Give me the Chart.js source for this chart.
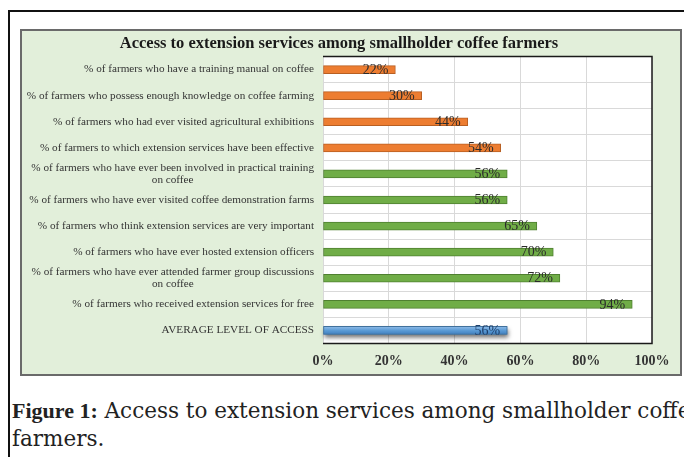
<!DOCTYPE html>
<html>
<head>
<meta charset="utf-8">
<script src="https://cdn.jsdelivr.net/npm/chart.js@4.4.1/dist/chart.umd.min.js"></script>
<style>
  html, body { margin:0; padding:0; background:#fff; width:684px; height:457px; overflow:hidden; }
  #frame { position:absolute; left:8px; top:10px; width:720px; height:480px; border:2px solid #111; box-sizing:border-box; }
  #box { position:absolute; left:20px; top:29px; width:662px; height:347px; box-sizing:border-box; border:2px solid #6a6a6a; background:#e2efda; }
  #box canvas { position:absolute; left:0; top:0; }
  #caption { position:absolute; left:12px; top:397px; font-family:"DejaVu Serif", serif; font-size:21.5px; line-height:28px; color:#222; white-space:nowrap; }
  #caption b { font-family:"Liberation Serif", serif; font-weight:bold; font-size:22px; }
</style>
</head>
<body>
<div id="frame"></div>
<div id="box"><canvas id="c" width="658" height="343"></canvas></div>
<div id="caption"><b>Figure 1:</b> Access to extension services among smallholder coffee<br>farmers.</div>
<script>
const chartTitle = "Access to extension services among smallholder coffee farmers";
const categories = [
  "% of farmers who have a training manual on coffee",
  "% of farmers who possess enough knowledge on coffee farming",
  "% of farmers who had ever visited agricultural exhibitions",
  "% of farmers to which extension services have been effective",
  ["% of farmers who have ever been involved in practical training", "on coffee"],
  "% of farmers who have ever visited coffee demonstration farms",
  "% of farmers who think extension services are very important",
  "% of farmers who have ever hosted extension officers",
  ["% of farmers who have ever attended farmer group discussions", "on coffee"],
  "% of farmers who received extension services for free",
  "AVERAGE LEVEL OF ACCESS"
];
const values = [22, 30, 44, 54, 56, 56, 65, 70, 72, 94, 56];
const groups = ["low", "low", "low", "low", "high", "high", "high", "high", "high", "high", "avg"];
const xTicks = [0, 20, 40, 60, 80, 100];

const fills = { low: "#ed7d31", high: "#70ad47" };
const borders = { low: "#b85f22", high: "#4f8030", avg: "#41719c" };

function barFill(ctx) {
  const g = groups[ctx.dataIndex];
  if (g !== "avg") return fills[g];
  const chart = ctx.chart;
  const ys = chart.scales && chart.scales.y;
  if (!ys || !chart.chartArea) return "#5b9bd5";
  const y = ys.getPixelForValue(ctx.dataIndex);
  const gr = chart.ctx.createLinearGradient(0, y - 4, 0, y + 4);
  gr.addColorStop(0, "#8fbbe8");
  gr.addColorStop(0.5, "#5b9bd5");
  gr.addColorStop(1, "#3f7fc0");
  return gr;
}

const bgPlugin = {
  id: "bg",
  beforeDraw(chart) {
    const a = chart.chartArea, c = chart.ctx;
    c.save(); c.fillStyle = "#ffffff"; c.fillRect(a.left, a.top, a.right - a.left, a.bottom - a.top); c.restore();
  },
  beforeDatasetsDraw(chart) {
    const c = chart.ctx;
    const meta = chart.getDatasetMeta(0);
    meta.data.forEach((el, i) => {
      if (groups[i] !== "avg") return;
      const p = el.getProps(["x", "y", "base", "height"], true);
      c.save();
      c.shadowColor = "rgba(0,0,0,0.55)";
      c.shadowBlur = 4;
      c.shadowOffsetY = 3;
      c.shadowOffsetX = 1;
      c.fillStyle = "#3f7fc0";
      c.fillRect(p.base, p.y - p.height / 2, p.x - p.base, p.height);
      c.restore();
    });
  },
  afterDatasetsDraw(chart) {
    const c = chart.ctx;
    const meta = chart.getDatasetMeta(0);
    c.save();
    c.font = "14px 'Liberation Serif', serif";
    c.textAlign = "right";
    c.textBaseline = "middle";
    meta.data.forEach((el, i) => {
      const p = el.getProps(["x", "y"], true);
      c.fillStyle = groups[i] === "avg" ? "#1f3f6a" : "#2b2b2b";
      c.fillText(values[i] + "%", p.x - 7, p.y + 0.5);
    });
    c.restore();
  },
  afterDraw(chart) {
    const a = chart.chartArea, c = chart.ctx;
    const ys = chart.scales.y;
    c.save();
    c.strokeStyle = "#1a1a1a"; c.lineWidth = 1.5;
    c.beginPath();
    c.moveTo(a.left, a.top); c.lineTo(a.right, a.top); c.lineTo(a.right, a.bottom); c.lineTo(a.left, a.bottom);
    c.stroke();
    // category labels: first line right-aligned, continuation lines centred under it
    c.font = "11.2px 'Liberation Serif', serif";
    c.fillStyle = "#333";
    c.textBaseline = "middle";
    const rightX = a.left - 9;
    const lh = 12.5;
    categories.forEach((lab, i) => {
      const y = ys.getPixelForValue(i);
      const lines = Array.isArray(lab) ? lab : [lab];
      const y0 = y - (lines.length - 1) * lh / 2;
      const w0 = c.measureText(lines[0]).width;
      const cx = rightX - w0 / 2;
      lines.forEach((ln, k) => {
        if (k === 0) { c.textAlign = "right"; c.fillText(ln, rightX, y0); }
        else { c.textAlign = "center"; c.fillText(ln, cx, y0 + k * lh); }
      });
    });
    c.font = "bold 16.5px 'Liberation Serif', serif";
    c.fillStyle = "#1a1a1a";
    c.textAlign = "center";
    c.textBaseline = "middle";
    c.fillText(chartTitle, 317, 12.5);
    c.restore();
  }
};

new Chart(document.getElementById("c"), {
  type: "bar",
  data: {
    labels: categories,
    datasets: [{
      data: values,
      backgroundColor: barFill,
      borderColor: (ctx) => borders[groups[ctx.dataIndex]],
      borderWidth: 1,
      borderSkipped: false,
      barThickness: 8
    }]
  },
  options: {
    indexAxis: "y",
    responsive: false,
    animation: false,
    events: [],
    layout: { padding: { left: 0, right: 28, top: 25.5, bottom: 0 } },
    plugins: { legend: { display: false }, tooltip: { enabled: false }, title: { display: false } },
    scales: {
      x: {
        min: 0, max: 100,
        afterBuildTicks(scale) { scale.ticks = xTicks.map(v => ({ value: v })); },
        afterFit(scale) { scale.height = 30.5; },
        grid: { color: "#d9d9d9", lineWidth: 1, drawTicks: false },
        border: { display: false },
        ticks: {
          padding: 9,
          color: "#333",
          font: { family: "'Liberation Serif', serif", size: 14, weight: "bold" },
          callback: (v) => v + "%"
        }
      },
      y: {
        afterFit(scale) { scale.width = 301; },
        grid: { color: "#d9d9d9", offset: true, drawTicks: false },
        border: { color: "#d9d9d9" },
        ticks: { display: false, autoSkip: false }
      }
    }
  },
  plugins: [bgPlugin]
});
</script>
</body>
</html>
